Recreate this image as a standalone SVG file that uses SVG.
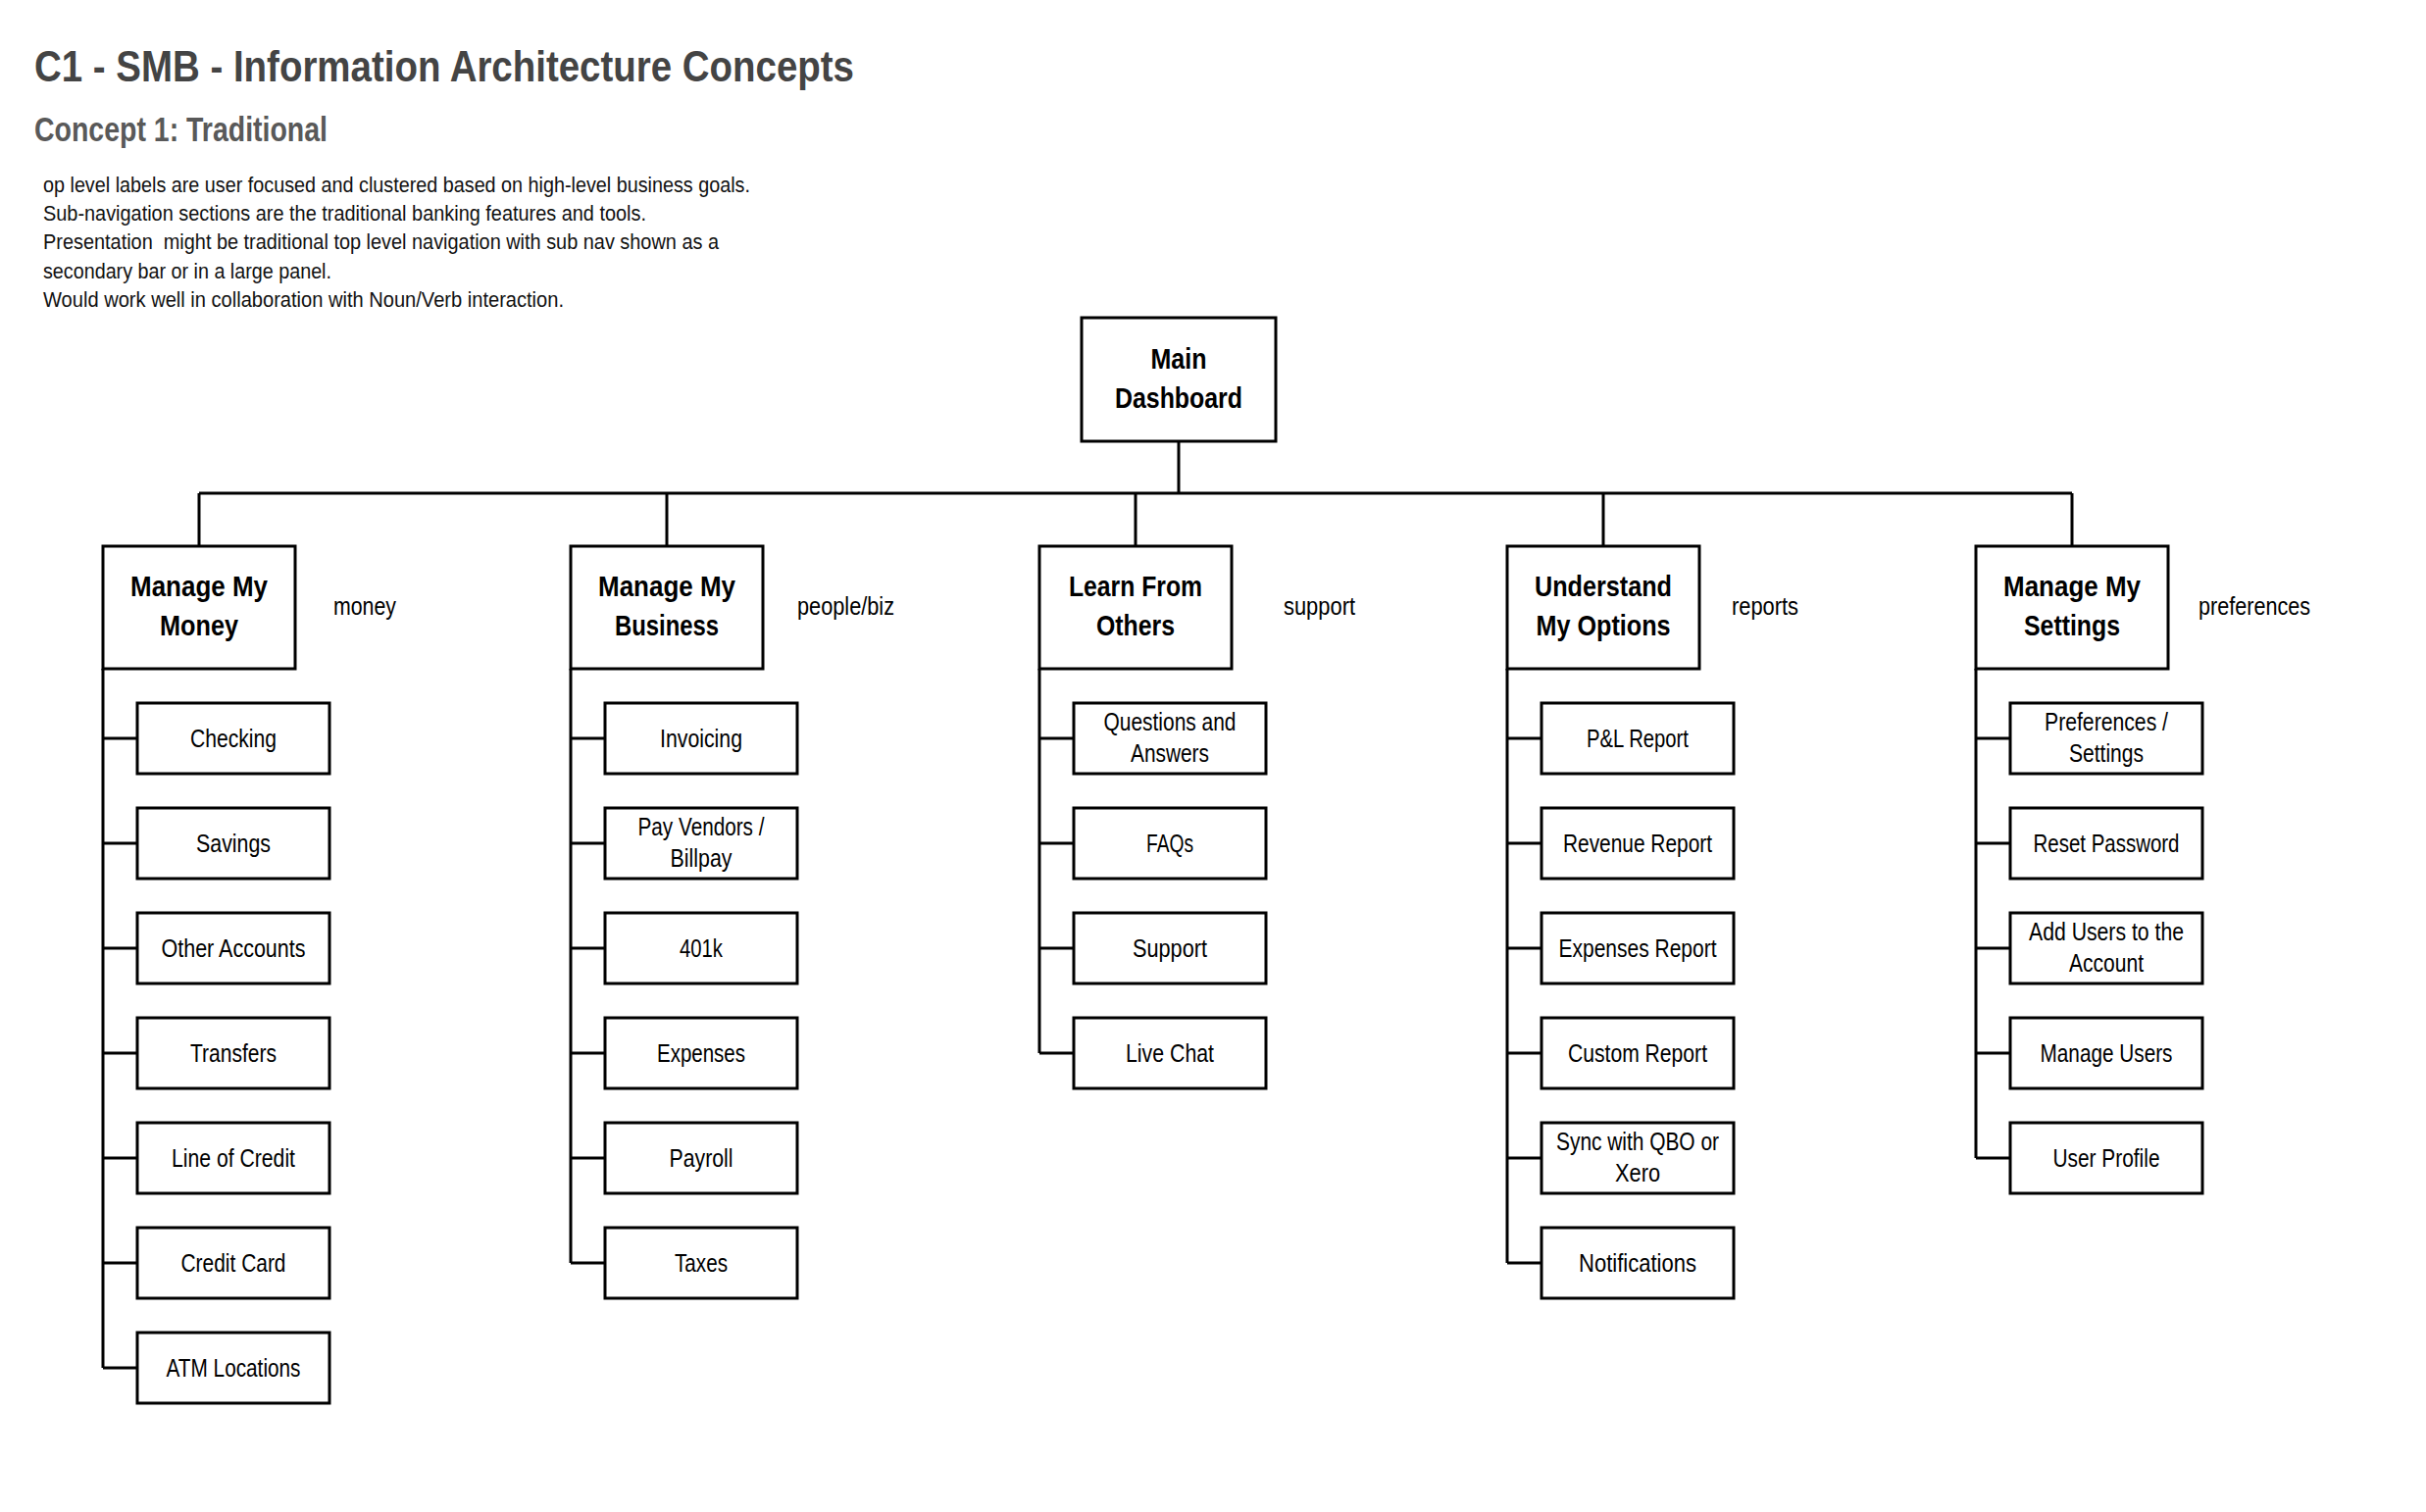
<svg xmlns="http://www.w3.org/2000/svg" width="2474" height="1542" viewBox="0 0 2474 1542">
<style>
  .bg { fill: #ffffff; }
  .box { fill: #ffffff; stroke: #000000; stroke-width: 3; }
  .conn { fill: none; stroke: #000000; stroke-width: 3; }
  .t { font-family: "Liberation Sans", Arial, sans-serif; }
  .title { font-size: 45px; font-weight: bold; fill: #444444; }
  .sub { font-size: 35px; font-weight: bold; fill: #595959; }
  .body { font-size: 22px; fill: #111111; white-space: pre; }
  .head { font-size: 30px; font-weight: bold; fill: #000000; text-anchor: middle; }
  .item { font-size: 25px; fill: #000000; text-anchor: middle; }
  .side { font-size: 25px; fill: #000000; }
</style>
<rect class="bg" x="0" y="0" width="2474" height="1542"/>

<g id="header">
  <text class="t title" x="35" y="83" textLength="836" lengthAdjust="spacingAndGlyphs">C1 - SMB - Information Architecture Concepts</text>
  <text class="t sub" x="35" y="144" textLength="299" lengthAdjust="spacingAndGlyphs">Concept 1: Traditional</text>
  <text class="t body" x="44" y="196" textLength="721" lengthAdjust="spacingAndGlyphs">op level labels are user focused and clustered based on high-level business goals.</text>
  <text class="t body" x="44" y="225" textLength="615" lengthAdjust="spacingAndGlyphs">Sub-navigation sections are the traditional banking features and tools.</text>
  <text class="t body" x="44" y="254" textLength="689" lengthAdjust="spacingAndGlyphs" xml:space="preserve">Presentation  might be traditional top level navigation with sub nav shown as a</text>
  <text class="t body" x="44" y="284" textLength="294" lengthAdjust="spacingAndGlyphs">secondary bar or in a large panel.</text>
  <text class="t body" x="44" y="313" textLength="531" lengthAdjust="spacingAndGlyphs">Would work well in collaboration with Noun/Verb interaction.</text>
</g>

<g id="connectors">
  <path class="conn" d="M1202 450 V503 M203 503 H2113 M203 503 V557 M680 503 V557 M1158 503 V557 M1635 503 V557 M2113 503 V557"/>
  <path class="conn" d="M105 682 V1395 M105 753 H140 M105 860 H140 M105 967 H140 M105 1074 H140 M105 1181 H140 M105 1288 H140 M105 1395 H140"/>
  <path class="conn" d="M582 682 V1288 M582 753 H617 M582 860 H617 M582 967 H617 M582 1074 H617 M582 1181 H617 M582 1288 H617"/>
  <path class="conn" d="M1060 682 V1074 M1060 753 H1095 M1060 860 H1095 M1060 967 H1095 M1060 1074 H1095"/>
  <path class="conn" d="M1537 682 V1288 M1537 753 H1572 M1537 860 H1572 M1537 967 H1572 M1537 1074 H1572 M1537 1181 H1572 M1537 1288 H1572"/>
  <path class="conn" d="M2015 682 V1181 M2015 753 H2050 M2015 860 H2050 M2015 967 H2050 M2015 1074 H2050 M2015 1181 H2050"/>
</g>

<g id="main-dashboard">
  <rect class="box" x="1103" y="324" width="198" height="126"/>
  <text class="t head" x="1202" y="376" textLength="57" lengthAdjust="spacingAndGlyphs">Main</text>
  <text class="t head" x="1202" y="416" textLength="130" lengthAdjust="spacingAndGlyphs">Dashboard</text>
</g>

<!-- Column 1 -->
<g id="manage-my-money">
  <rect class="box" x="105" y="557" width="196" height="125"/>
  <text class="t head" x="203" y="608" textLength="140" lengthAdjust="spacingAndGlyphs">Manage My</text>
  <text class="t head" x="203" y="648" textLength="80" lengthAdjust="spacingAndGlyphs">Money</text>
  <text class="t side" x="340" y="627" textLength="64" lengthAdjust="spacingAndGlyphs">money</text>
</g>
<g id="checking"><rect class="box" x="140" y="717" width="196" height="72"/><text class="t item" x="238" y="762" textLength="88" lengthAdjust="spacingAndGlyphs">Checking</text></g>
<g id="savings"><rect class="box" x="140" y="824" width="196" height="72"/><text class="t item" x="238" y="869" textLength="76" lengthAdjust="spacingAndGlyphs">Savings</text></g>
<g id="other-accounts"><rect class="box" x="140" y="931" width="196" height="72"/><text class="t item" x="238" y="976" textLength="147" lengthAdjust="spacingAndGlyphs">Other Accounts</text></g>
<g id="transfers"><rect class="box" x="140" y="1038" width="196" height="72"/><text class="t item" x="238" y="1083" textLength="88" lengthAdjust="spacingAndGlyphs">Transfers</text></g>
<g id="line-of-credit"><rect class="box" x="140" y="1145" width="196" height="72"/><text class="t item" x="238" y="1190" textLength="126" lengthAdjust="spacingAndGlyphs">Line of Credit</text></g>
<g id="credit-card"><rect class="box" x="140" y="1252" width="196" height="72"/><text class="t item" x="238" y="1297" textLength="107" lengthAdjust="spacingAndGlyphs">Credit Card</text></g>
<g id="atm-locations"><rect class="box" x="140" y="1359" width="196" height="72"/><text class="t item" x="238" y="1404" textLength="137" lengthAdjust="spacingAndGlyphs">ATM Locations</text></g>

<!-- Column 2 -->
<g id="manage-my-business">
  <rect class="box" x="582" y="557" width="196" height="125"/>
  <text class="t head" x="680" y="608" textLength="140" lengthAdjust="spacingAndGlyphs">Manage My</text>
  <text class="t head" x="680" y="648" textLength="106" lengthAdjust="spacingAndGlyphs">Business</text>
  <text class="t side" x="813" y="627" textLength="99" lengthAdjust="spacingAndGlyphs">people/biz</text>
</g>
<g id="invoicing"><rect class="box" x="617" y="717" width="196" height="72"/><text class="t item" x="715" y="762" textLength="84" lengthAdjust="spacingAndGlyphs">Invoicing</text></g>
<g id="pay-vendors"><rect class="box" x="617" y="824" width="196" height="72"/><text class="t item" x="715" y="852" textLength="129" lengthAdjust="spacingAndGlyphs">Pay Vendors /</text><text class="t item" x="715" y="884" textLength="63" lengthAdjust="spacingAndGlyphs">Billpay</text></g>
<g id="401k"><rect class="box" x="617" y="931" width="196" height="72"/><text class="t item" x="715" y="976" textLength="44" lengthAdjust="spacingAndGlyphs">401k</text></g>
<g id="expenses"><rect class="box" x="617" y="1038" width="196" height="72"/><text class="t item" x="715" y="1083" textLength="90" lengthAdjust="spacingAndGlyphs">Expenses</text></g>
<g id="payroll"><rect class="box" x="617" y="1145" width="196" height="72"/><text class="t item" x="715" y="1190" textLength="65" lengthAdjust="spacingAndGlyphs">Payroll</text></g>
<g id="taxes"><rect class="box" x="617" y="1252" width="196" height="72"/><text class="t item" x="715" y="1297" textLength="54" lengthAdjust="spacingAndGlyphs">Taxes</text></g>

<!-- Column 3 -->
<g id="learn-from-others">
  <rect class="box" x="1060" y="557" width="196" height="125"/>
  <text class="t head" x="1158" y="608" textLength="136" lengthAdjust="spacingAndGlyphs">Learn From</text>
  <text class="t head" x="1158" y="648" textLength="80" lengthAdjust="spacingAndGlyphs">Others</text>
  <text class="t side" x="1309" y="627" textLength="73" lengthAdjust="spacingAndGlyphs">support</text>
</g>
<g id="questions-and-answers"><rect class="box" x="1095" y="717" width="196" height="72"/><text class="t item" x="1193" y="745" textLength="135" lengthAdjust="spacingAndGlyphs">Questions and</text><text class="t item" x="1193" y="777" textLength="80" lengthAdjust="spacingAndGlyphs">Answers</text></g>
<g id="faqs"><rect class="box" x="1095" y="824" width="196" height="72"/><text class="t item" x="1193" y="869" textLength="48" lengthAdjust="spacingAndGlyphs">FAQs</text></g>
<g id="support"><rect class="box" x="1095" y="931" width="196" height="72"/><text class="t item" x="1193" y="976" textLength="76" lengthAdjust="spacingAndGlyphs">Support</text></g>
<g id="live-chat"><rect class="box" x="1095" y="1038" width="196" height="72"/><text class="t item" x="1193" y="1083" textLength="90" lengthAdjust="spacingAndGlyphs">Live Chat</text></g>

<!-- Column 4 -->
<g id="understand-my-options">
  <rect class="box" x="1537" y="557" width="196" height="125"/>
  <text class="t head" x="1635" y="608" textLength="140" lengthAdjust="spacingAndGlyphs">Understand</text>
  <text class="t head" x="1635" y="648" textLength="137" lengthAdjust="spacingAndGlyphs">My Options</text>
  <text class="t side" x="1766" y="627" textLength="68" lengthAdjust="spacingAndGlyphs">reports</text>
</g>
<g id="pl-report"><rect class="box" x="1572" y="717" width="196" height="72"/><text class="t item" x="1670" y="762" textLength="104" lengthAdjust="spacingAndGlyphs">P&amp;L Report</text></g>
<g id="revenue-report"><rect class="box" x="1572" y="824" width="196" height="72"/><text class="t item" x="1670" y="869" textLength="152" lengthAdjust="spacingAndGlyphs">Revenue Report</text></g>
<g id="expenses-report"><rect class="box" x="1572" y="931" width="196" height="72"/><text class="t item" x="1670" y="976" textLength="161" lengthAdjust="spacingAndGlyphs">Expenses Report</text></g>
<g id="custom-report"><rect class="box" x="1572" y="1038" width="196" height="72"/><text class="t item" x="1670" y="1083" textLength="142" lengthAdjust="spacingAndGlyphs">Custom Report</text></g>
<g id="sync-qbo-xero"><rect class="box" x="1572" y="1145" width="196" height="72"/><text class="t item" x="1670" y="1173" textLength="166" lengthAdjust="spacingAndGlyphs">Sync with QBO or</text><text class="t item" x="1670" y="1205" textLength="46" lengthAdjust="spacingAndGlyphs">Xero</text></g>
<g id="notifications"><rect class="box" x="1572" y="1252" width="196" height="72"/><text class="t item" x="1670" y="1297" textLength="120" lengthAdjust="spacingAndGlyphs">Notifications</text></g>

<!-- Column 5 -->
<g id="manage-my-settings">
  <rect class="box" x="2015" y="557" width="196" height="125"/>
  <text class="t head" x="2113" y="608" textLength="140" lengthAdjust="spacingAndGlyphs">Manage My</text>
  <text class="t head" x="2113" y="648" textLength="98" lengthAdjust="spacingAndGlyphs">Settings</text>
  <text class="t side" x="2242" y="627" textLength="114" lengthAdjust="spacingAndGlyphs">preferences</text>
</g>
<g id="preferences-settings"><rect class="box" x="2050" y="717" width="196" height="72"/><text class="t item" x="2148" y="745" textLength="126" lengthAdjust="spacingAndGlyphs">Preferences /</text><text class="t item" x="2148" y="777" textLength="76" lengthAdjust="spacingAndGlyphs">Settings</text></g>
<g id="reset-password"><rect class="box" x="2050" y="824" width="196" height="72"/><text class="t item" x="2148" y="869" textLength="149" lengthAdjust="spacingAndGlyphs">Reset Password</text></g>
<g id="add-users"><rect class="box" x="2050" y="931" width="196" height="72"/><text class="t item" x="2148" y="959" textLength="158" lengthAdjust="spacingAndGlyphs">Add Users to the</text><text class="t item" x="2148" y="991" textLength="76" lengthAdjust="spacingAndGlyphs">Account</text></g>
<g id="manage-users"><rect class="box" x="2050" y="1038" width="196" height="72"/><text class="t item" x="2148" y="1083" textLength="135" lengthAdjust="spacingAndGlyphs">Manage Users</text></g>
<g id="user-profile"><rect class="box" x="2050" y="1145" width="196" height="72"/><text class="t item" x="2148" y="1190" textLength="109" lengthAdjust="spacingAndGlyphs">User Profile</text></g>
</svg>
